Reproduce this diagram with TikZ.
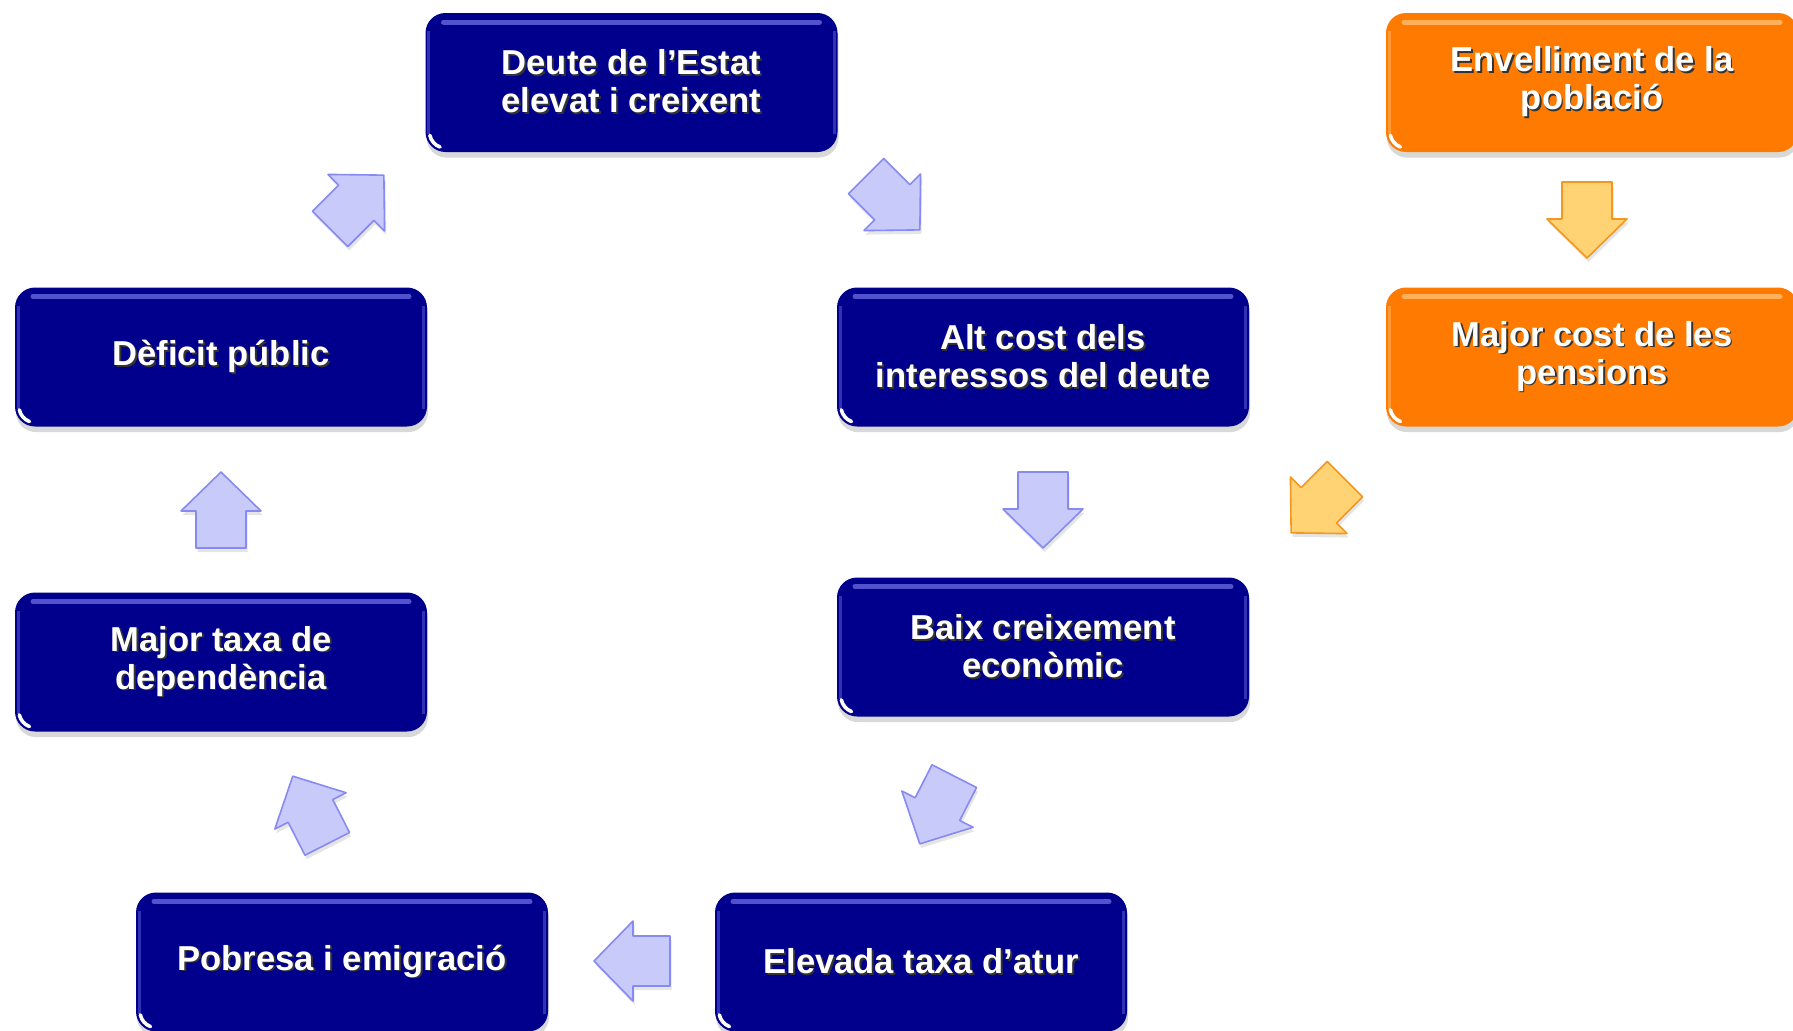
\documentclass[tikz,border=0pt]{standalone}
\usepackage{fontspec}
\setmainfont{Liberation Sans}
\usetikzlibrary{shadows}
\definecolor{navyb}{RGB}{0,0,140}
\definecolor{navyhi}{RGB}{110,110,230}
\definecolor{orb}{RGB}{255,122,0}
\definecolor{orhi}{RGB}{255,195,120}
\definecolor{lavfill}{RGB}{200,202,250}
\definecolor{lavline}{RGB}{135,138,240}
\definecolor{ofill}{RGB}{255,210,115}
\definecolor{oline}{RGB}{245,150,30}
\newcommand\tsh[1]{\leavevmode\rlap{\kern0.9pt\raisebox{-0.9pt}{\textcolor{black!80}{#1}}}#1}
\newcommand\blockarrow[3]{\path[#1, shift={#2}, rotate=#3] (-38,-25) -- (-1,-25) -- (-1,-40) -- (38,0) -- (-1,40) -- (-1,25) -- (-38,25) -- cycle;}
\begin{document}
\begin{tikzpicture}[x=0.5pt,y=-0.5pt,
  gbox/.style 2 args={rounded corners=10pt, fill=#1, minimum width=206pt, minimum height=69.5pt,
    text=white, align=center, font=\bfseries\fontsize{17.3}{19}\selectfont, inner sep=0pt,
    drop shadow={shadow xshift=0.5pt, shadow yshift=-2.8pt, opacity=0.3},
    path picture={
      \draw[sharp corners, #2, line width=2.5pt, line cap=round, opacity=0.75]
        ([xshift=9pt,yshift=-4.5pt]path picture bounding box.north west) --
        ([xshift=-9pt,yshift=-4.5pt]path picture bounding box.north east);
      \draw[sharp corners, #2, line width=1.6pt, opacity=0.45]
        ([xshift=1.6pt,yshift=-9pt]path picture bounding box.north west) --
        ([xshift=1.6pt,yshift=9pt]path picture bounding box.south west);
      \draw[sharp corners, #2, line width=1.6pt, opacity=0.45]
        ([xshift=-1.6pt,yshift=-9pt]path picture bounding box.north east) --
        ([xshift=-1.6pt,yshift=9pt]path picture bounding box.south east);
      \draw[sharp corners, white, line width=1.8pt, line cap=round]
        ([shift={(10pt,10pt)}]path picture bounding box.south west) ++(192:8pt)
        arc[start angle=192, end angle=250, radius=8pt];
    }},
  navybox/.style={gbox={navyb}{navyhi}},
  orbox/.style={gbox={orb}{orhi}},
  lavarrow/.style={fill=lavfill, draw=lavline, line width=0.8pt, line join=round,
    drop shadow={shadow xshift=0.8pt, shadow yshift=-2pt, opacity=0.2}},
  orarrow/.style={fill=ofill, draw=oline, line width=0.8pt, line join=round,
    drop shadow={shadow xshift=0.8pt, shadow yshift=-2pt, opacity=0.2}}
]
\fill[white] (0,0) rectangle (1793,1030);
\useasboundingbox (0,0) rectangle (1793,1030);

\node[navybox] (deute) at (631.5,82.5) {\tsh{Deute de l’Estat}\\\tsh{elevat i creixent}};
\node[orbox] (envell) at (1592,82.5) {\tsh{Envelliment de la}\\\tsh{població}};
\node[navybox] (deficit) at (221,357) {\tsh{Dèficit públic}};
\node[navybox] (altcost) at (1043,357) {\tsh{Alt cost dels}\\\tsh{interessos del deute}};
\node[orbox] (pensions) at (1592,357) {\tsh{Major cost de les}\\\tsh{pensions}};
\node[navybox] (baix) at (1043,647) {\tsh{Baix creixement}\\\tsh{econòmic}};
\node[navybox] (taxa) at (221,662) {\tsh{Major taxa de}\\\tsh{dependència}};
\node[navybox] (pobresa) at (342,962) {\tsh{Pobresa i emigració}};
\node[navybox] (atur) at (921,962) {\tsh{Elevada taxa d’atur}};

\blockarrow{lavarrow}{(221,510)}{90}
\blockarrow{lavarrow}{(357,202)}{45}
\blockarrow{lavarrow}{(893,203)}{-45}
\blockarrow{lavarrow}{(1043,510)}{-90}
\blockarrow{lavarrow}{(937,810)}{243}
\blockarrow{lavarrow}{(632,961)}{180}
\blockarrow{lavarrow}{(310,810)}{117}
\blockarrow{orarrow}{(1587,220)}{-90}
\blockarrow{orarrow}{(1318,506)}{225}
\end{tikzpicture}
\end{document}
